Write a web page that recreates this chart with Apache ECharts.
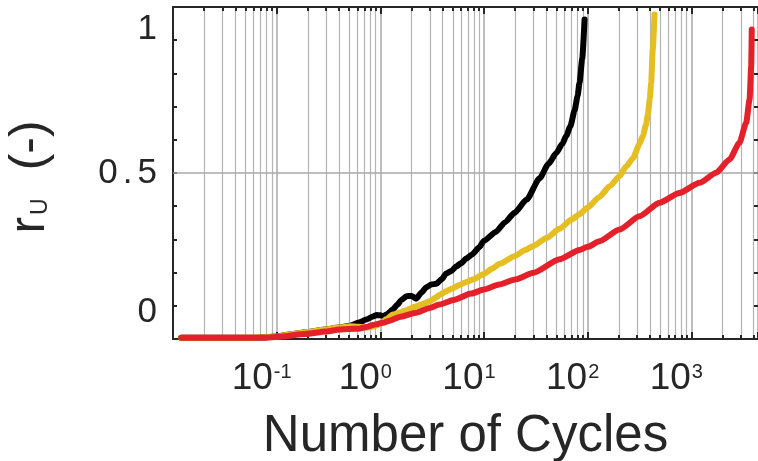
<!DOCTYPE html>
<html>
<head>
<meta charset="utf-8">
<script src="https://cdn.jsdelivr.net/npm/echarts@6/dist/echarts.min.js"></script>
<style>
  html, body { margin: 0; padding: 0; background: #ffffff; }
  #chart { width: 758px; height: 461px; }
</style>
</head>
<body>
<div id="chart"></div>
<script>
// ---- data ----
const xMin = 0.01;
const xMax = 4400;
const yMin = -0.125;
const yMax = 1.125;
const yStep = 0.125;
const yLabelValues = [0, 0.5, 1];
const xLabelExponents = [-1, 0, 1, 2, 3];
const yGridValues = [0.5];

const blackCycles = [0.012, 0.06, 0.1, 0.133, 0.2, 0.28, 0.4, 0.506, 0.62, 0.73, 0.85, 0.92, 1.0, 1.07, 1.15, 1.32, 1.45, 1.6, 1.78, 2.0, 2.22, 2.5, 2.78, 3.1, 3.47, 3.9, 4.33, 4.8, 5.4, 6.0, 6.75, 7.6, 9.0, 10, 13, 16, 19.7, 25.8, 34.4, 42, 49.8, 57, 62.2, 68, 74.8, 80, 83.5, 88.7, 93.4];
const blackRu = [-0.12, -0.12, -0.116, -0.108, -0.099, -0.09, -0.082, -0.075, -0.063, -0.052, -0.04, -0.035, -0.036, -0.039, -0.033, -0.014, 0.003, 0.022, 0.036, 0.037, 0.027, 0.05, 0.07, 0.08, 0.083, 0.1, 0.122, 0.13, 0.148, 0.16, 0.178, 0.192, 0.22, 0.245, 0.278, 0.315, 0.35, 0.40, 0.48, 0.535, 0.575, 0.61, 0.64, 0.675, 0.735, 0.79, 0.84, 0.93, 1.078];

const yellowCycles = [0.012, 0.06, 0.1, 0.133, 0.2, 0.28, 0.4, 0.506, 0.62, 0.73, 0.85, 0.98, 1.15, 1.32, 1.55, 1.78, 2.0, 2.22, 2.6, 2.99, 3.4, 3.73, 4.33, 5.0, 5.8, 6.8, 7.8, 10, 12, 14.2, 19.7, 25, 29.6, 40, 53.6, 70, 83.5, 100, 130, 163, 203, 236, 273, 317, 341, 365, 381, 398, 410, 425, 442];
const yellowRu = [-0.12, -0.12, -0.116, -0.108, -0.099, -0.09, -0.082, -0.077, -0.079, -0.083, -0.078, -0.07, -0.05, -0.033, -0.025, -0.017, -0.008, -0.002, 0.008, 0.017, 0.03, 0.041, 0.055, 0.066, 0.078, 0.09, 0.099, 0.12, 0.14, 0.158, 0.187, 0.21, 0.224, 0.255, 0.29, 0.325, 0.345, 0.37, 0.41, 0.45, 0.488, 0.525, 0.555, 0.61, 0.64, 0.68, 0.72, 0.78, 0.84, 0.965, 1.097];

const redCycles = [0.012, 0.08, 0.1, 0.19, 0.3, 0.405, 0.5, 0.63, 0.75, 0.85, 1.06, 1.23, 1.53, 2.22, 2.99, 3.73, 5.1, 7.5, 10, 14, 20, 30, 53.6, 83.5, 100, 130, 203, 316, 493, 769, 1200, 1738, 2335, 2915, 3383, 3650, 3784, 3830];
const redRu = [-0.12, -0.12, -0.117, -0.106, -0.097, -0.089, -0.087, -0.086, -0.079, -0.072, -0.064, -0.056, -0.042, -0.026, -0.008, 0.005, 0.022, 0.046, 0.061, 0.08, 0.099, 0.124, 0.175, 0.21, 0.222, 0.243, 0.287, 0.337, 0.388, 0.425, 0.463, 0.501, 0.551, 0.614, 0.689, 0.777, 0.902, 1.04];

// ---- chart ----
const FONT = 'Liberation Sans, Arial, Helvetica, sans-serif';
const TXT = '#262626';
const AX = '#262626';
const GRID = '#b4b4b4';

function pairs(xs, ys) { return xs.map((x, i) => [x, ys[i]]); }

const chart = echarts.init(document.getElementById('chart'), null, { renderer: 'canvas' });

function xLabel(v) {
  const e = Math.log10(v);
  const r = Math.round(e);
  if (Math.abs(e - r) > 1e-6) return '';
  if (xLabelExponents.indexOf(r) < 0) return '';
  return '{b|10}{s|' + r + '}';
}
function yLabel(v) {
  for (let i = 0; i < yLabelValues.length; i++) {
    if (Math.abs(v - yLabelValues[i]) < 1e-9) {
      const key = ['z', 'h', 'o'][i];
      const parts = String(yLabelValues[i]).split('.');
      if (parts.length === 2) {
        return '{' + key + '|' + parts[0] + '}{' + key + 'd|.}{' + key + '|' + parts[1] + '}';
      }
      return '{' + key + '|' + yLabelValues[i] + '}';
    }
  }
  return '';
}

const commonXAxis = {
  type: 'log', logBase: 10, min: xMin, max: xMax,
  axisLine: { show: true, onZero: false, lineStyle: { color: AX, width: 2 } },
  axisTick: { show: true, inside: true, length: 7, lineStyle: { color: AX, width: 2 } },
  minorTick: { show: true, splitNumber: 9, length: 4, lineStyle: { color: AX, width: 2 } }
};

const option = {
  animation: false,
  backgroundColor: '#ffffff',
  grid: { left: 173, right: 0, top: 7, bottom: 122, containLabel: false, outerBoundsMode: 'none' },
  xAxis: [
    Object.assign({}, commonXAxis, {
      position: 'bottom',
      splitLine: { show: true, lineStyle: { color: '#a9a9a9', width: 1.5 } },
      minorSplitLine: { show: true, lineStyle: { color: GRID, width: 1.2 } },
      axisLabel: {
        show: true, margin: 21, padding: [0, 30, 0, 0],
        color: TXT, fontFamily: FONT,
        formatter: xLabel,
        rich: {
          b: { fontSize: 37, color: TXT, fontFamily: FONT },
          s: { fontSize: 20, color: TXT, fontFamily: FONT, padding: [0, 0, 12, 1] }
        }
      },
      name: 'Number of Cycles', nameLocation: 'middle', nameGap: 72,
      nameTextStyle: { fontSize: 51, color: TXT, fontFamily: FONT }
    }),
    Object.assign({}, commonXAxis, {
      position: 'top',
      splitLine: { show: false },
      minorSplitLine: { show: false },
      axisLabel: { show: false }
    })
  ],
  yAxis: [
    {
      type: 'value', position: 'left', min: yMin, max: yMax, interval: yStep,
      axisLine: { show: true, onZero: false, lineStyle: { color: AX, width: 2 } },
      axisTick: { show: true, inside: true, length: 4, lineStyle: { color: AX, width: 2 } },
      splitLine: { show: false },
      axisLabel: {
        show: true, margin: 16, color: TXT, fontFamily: FONT, fontSize: 35,
        formatter: yLabel,
        rich: {
          z: { fontSize: 35, color: TXT, fontFamily: FONT, padding: [14, 0, 0, 0] },
          h: { fontSize: 35, color: TXT, fontFamily: FONT },
          hd: { fontSize: 35, color: TXT, fontFamily: FONT, padding: [0, 5, 0, 5] },
          o: { fontSize: 35, color: TXT, fontFamily: FONT, padding: [0, 0, 22, 0] }
        }
      },
      name: '{r|r}{s|U}{p|(-)}', nameLocation: 'middle', nameGap: 118, nameRotate: 90,
      nameTextStyle: {
        color: TXT, fontFamily: FONT, padding: [0, 8, 0, 0],
        rich: {
          r: { fontSize: 50, color: TXT, fontFamily: FONT },
          s: { fontSize: 23, color: TXT, fontFamily: FONT, padding: [22, 0, 0, 2] },
          p: { fontSize: 50, color: TXT, fontFamily: FONT, padding: [0, 0, 0, 28] }
        }
      }
    },
    {
      type: 'value', position: 'right', min: yMin, max: yMax, interval: yStep,
      axisLine: { show: false, onZero: false },
      axisTick: { show: true, inside: true, length: 4, lineStyle: { color: AX, width: 2 } },
      splitLine: { show: false },
      axisLabel: { show: false }
    }
  ],
  series: [
    {
      name: 'grid', type: 'line', data: [], z: 1, silent: true,
      markLine: {
        silent: true, symbol: 'none', z: 1, animation: false,
        label: { show: false },
        lineStyle: { color: '#a9a9a9', width: 1.5, type: 'solid' },
        data: yGridValues.map(v => ({ yAxis: v }))
      }
    },
    {
      name: 'black', type: 'line', data: pairs(blackCycles, blackRu),
      showSymbol: false, symbol: 'none', smooth: 0.2, smoothMonotone: 'x', z: 3,
      lineStyle: { color: '#000000', width: 6, cap: 'round', join: 'round' }
    },
    {
      name: 'yellow', type: 'line', data: pairs(yellowCycles, yellowRu),
      showSymbol: false, symbol: 'none', smooth: 0.2, smoothMonotone: 'x', z: 4,
      lineStyle: { color: '#E5BE21', width: 6, cap: 'round', join: 'round' }
    },
    {
      name: 'red', type: 'line', data: pairs(redCycles, redRu),
      showSymbol: false, symbol: 'none', smooth: 0.2, smoothMonotone: 'x', z: 5,
      lineStyle: { color: '#E4202A', width: 6, cap: 'round', join: 'round' }
    }
  ]
};

chart.setOption(option);
</script>
</body>
</html>
